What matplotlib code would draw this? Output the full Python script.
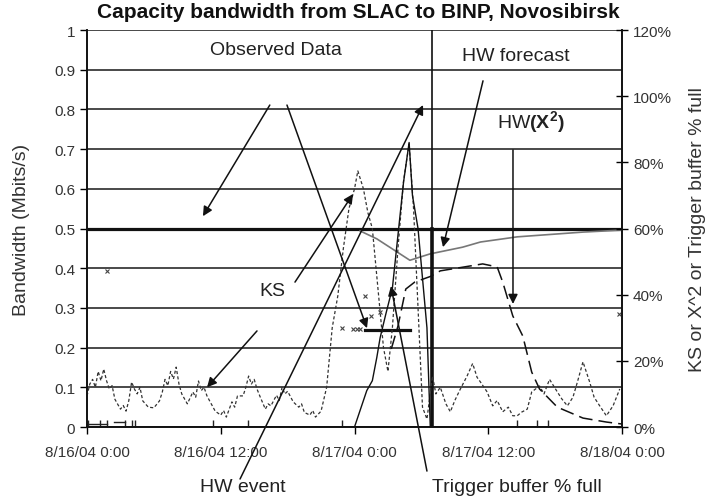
import matplotlib.pyplot as plt
import numpy as np

plt.rcParams['font.family'] = ['Liberation Sans', 'DejaVu Sans']
plt.rcParams['mathtext.fontset'] = 'custom'
plt.rcParams['mathtext.rm'] = 'Liberation Sans'
plt.rcParams['mathtext.bf'] = 'Liberation Sans:bold'

# time axis: hours since 8/16/04 0:00
tick_hours = [0, 12, 24, 36, 48]
tick_labels = ['8/16/04 0:00', '8/16/04 12:00', '8/17/04 0:00', '8/17/04 12:00', '8/18/04 0:00']
left_ticks = [0, 0.1, 0.2, 0.3, 0.4, 0.5, 0.6, 0.7, 0.8, 0.9, 1.0]
left_labels = ['0', '0.1', '0.2', '0.3', '0.4', '0.5', '0.6', '0.7', '0.8', '0.9', '1']
right_ticks = [0, 20, 40, 60, 80, 100, 120]

# observed bandwidth (Mbits/s)
obs_hours = [0, 48]
obs_bw = [0.5, 0.5]
obs_low_hours = [24.9, 29.0]
obs_low_bw = [0.245, 0.245]
obs_pt_hours = [1.8, 22.9, 23.9, 24.2, 24.5, 24.9, 25.5, 26.3, 47.7]
obs_pt_bw = [0.393, 0.249, 0.247, 0.247, 0.246, 0.33, 0.28, 0.29, 0.285]
base_hours = [0.1, 1.2, 1.8, 3.4, 4.0, 4.3, 11.3, 14.4, 22.9, 38.6, 40.4, 41.4]

# HW forecast (Mbits/s)
hwf_hours = [24.5, 26.0, 28.97, 30.77, 33.7, 35.3, 38.6, 44.5, 48.0]
hwf_bw = [0.494, 0.474, 0.42, 0.436, 0.453, 0.466, 0.479, 0.491, 0.496]

# KS (%)
ks_hours = [0, 0.25, 0.5, 0.75, 1.0, 1.25, 1.5, 1.75, 2.0, 2.25, 2.5, 3.0, 3.25, 3.5, 3.75,
            4.0, 4.25, 4.5, 4.75, 5.0, 5.5, 6.0, 6.5, 6.75, 7.0, 7.25, 7.5, 7.75,
            8.0, 8.25, 8.5, 8.75, 9.0, 9.5, 9.75, 10.0, 10.25, 10.5, 10.75, 11.0, 11.5,
            12.0, 12.25, 12.5, 13.0, 13.25, 13.5, 14.0, 14.25, 14.5, 14.75,
            15.0, 15.25, 15.5, 16.0, 16.25, 16.5, 17.0, 17.25, 17.5, 17.75, 18.0, 18.5,
            19.0, 19.25, 19.5, 20.0, 20.25, 20.5, 21.0,
            21.5, 22.0, 22.5, 23.0, 23.5, 24.0, 24.3, 24.8, 25.2, 25.6, 26.1, 26.6, 27.0,
            27.4, 27.9, 28.4, 28.9, 29.3, 29.7, 30.1, 30.5, 31.0, 31.3, 31.7, 32.2, 32.6,
            33.0, 33.5, 34.1, 34.6, 35.0, 35.3, 35.9, 36.4, 36.8, 37.3, 37.8, 38.2, 38.6,
            39.0, 39.5, 39.9, 40.6, 41.0, 41.5, 42.2, 42.6, 43.1, 43.6, 44.0,
            44.5, 45.1, 45.5, 46.0, 46.6, 47.2, 47.8]
ks_pct = [9.4, 13.0, 14.4, 12.0, 16.8, 14.0, 17.5, 14.0, 11.5, 12.5, 8.4, 5.4, 6.5, 4.8, 8.0,
          13.6, 11.5, 10.0, 12.0, 7.9, 6.0, 5.8, 7.9, 10.5, 14.4, 12.5, 16.8, 14.5,
          18.1, 13.0, 10.0, 8.5, 7.0, 10.6, 9.0, 13.9, 11.0, 12.0, 9.5, 7.9, 4.8,
          3.6, 5.0, 3.0, 7.6, 6.0, 9.4, 9.4, 12.0, 15.4, 13.0,
          14.4, 11.5, 9.4, 5.4, 7.0, 6.4, 9.6, 8.0, 12.0, 10.0, 10.8, 7.6,
          6.0, 7.0, 4.4, 3.6, 5.0, 3.0, 4.8,
          12.0, 30.0, 39.6, 54.0, 66.0, 72.0, 77.4, 72.0, 64.8, 60.0, 42.0, 24.0, 16.8,
          30.0, 54.0, 74.4, 85.6, 66.0, 36.0, 6.0, 2.4, 15.4, 10.0, 12.0, 7.0, 4.6,
          8.0, 11.5, 15.4, 19.2, 15.0, 13.6, 10.6, 6.4, 8.0, 4.6, 6.0, 3.4, 3.4,
          4.5, 5.4, 10.6, 12.4, 10.0, 14.4, 10.6, 8.5, 6.4, 9.0, 13.6,
          19.7, 13.6, 9.0, 6.4, 3.4, 6.4, 11.5]

# Trigger buffer % full
trig_hours = [24.0, 24.5, 25.1, 25.6, 26.0, 26.3, 26.8, 27.4, 27.9, 28.4, 28.9, 29.2, 29.7, 30.1, 30.5, 30.8]
trig_pct = [0, 5, 11, 14, 21, 27, 34, 42, 58, 74, 86, 70, 60, 45, 30, 0]

# HW(X^2) (%)
hwx_hours = [27.3, 27.9, 28.6, 29.4, 30.8, 31.7, 35.5, 36.8, 37.3, 38.2, 39.1, 39.9, 40.6, 42.2, 44.5, 46.6, 48.0]
hwx_pct = [23.6, 30.5, 41.7, 43.8, 45.5, 47.2, 49.3, 48.4, 43.8, 33.6, 27.5, 16.6, 11.5, 6.0, 2.7, 1.5, 0.9]

event_hour = 30.95

fig = plt.figure(figsize=(7.11, 5.02), dpi=100)
ax = fig.add_axes([0.1224, 0.1474, 0.7524, 0.7908])
ax2 = ax.twinx()

ax.set_xlim(0, 48)
ax.set_ylim(0, 1)
ax2.set_ylim(0, 120)

ax.set_yticks(left_ticks)
ax.set_yticklabels(left_labels)
ax.yaxis.grid(True, color='#2a2a2a', lw=1.2)
ax.set_axisbelow(True)
ax.set_xticks(tick_hours)
ax.set_xticklabels(tick_labels)
ax2.set_yticks(right_ticks)
ax2.set_yticklabels(['%d%%' % v for v in right_ticks])

for a in (ax, ax2):
    a.spines['top'].set_visible(False)
    for s in ('left', 'right', 'bottom'):
        a.spines[s].set_linewidth(1.2)
        a.spines[s].set_color('#111')
ax.tick_params(axis='both', direction='out', length=5, width=1, labelsize=11, labelcolor='#333')
ax.tick_params(axis='x', pad=8)
ax2.tick_params(axis='y', direction='inout', length=9, width=1, labelsize=11, labelcolor='#333')

# observed data
ax.plot(obs_hours, obs_bw, color='#111', lw=2.3, zorder=3)
ax.plot(obs_low_hours, obs_low_bw, color='#111', lw=2.3, zorder=3)
ax.plot(obs_pt_hours, obs_pt_bw, 'x', color='#444', ms=3, mew=0.8, zorder=3)
ax.plot(base_hours, [0.008] * len(base_hours), '|', color='#222', ms=6, mew=1, zorder=3)
ax.plot([0, 1.8], [0.008, 0.008], color='#222', lw=1)
ax.plot([2.4, 3.4], [0.012, 0.012], color='#222', lw=1)

# HW forecast
ax.plot(hwf_hours, hwf_bw, color='#777', lw=1.2, zorder=3)

# event line
ax.axvline(event_hour, color='#111', lw=1.2, zorder=3)
ax.plot([event_hour, event_hour], [0, 0.5], color='#111', lw=2.6, zorder=3)

# right-axis series
ax2.plot(ks_hours, ks_pct, color='#333', lw=0.9, dashes=(2.5, 1.8))
ax2.plot(trig_hours, trig_pct, color='#111', lw=1)
ax2.plot(hwx_hours, hwx_pct, color='#111', lw=1.1, dashes=(9, 4))

# annotations (tail -> head), data coords on left axis
arrows = [
    ((16.4, 0.811), (10.4, 0.531)),
    ((17.94, 0.811), (25.12, 0.249)),
    ((18.66, 0.365), (23.87, 0.587)),
    ((15.25, 0.242), (10.77, 0.1)),
    ((13.73, -0.131), (30.15, 0.811)),
    ((30.5, -0.111), (27.27, 0.355)),
    ((35.53, 0.872), (31.94, 0.453)),
    ((38.22, 0.698), (38.22, 0.31)),
]
for tail, head in arrows:
    ax2.annotate('', xy=(head[0], head[1] * 120), xytext=(tail[0], tail[1] * 120),
                 arrowprops=dict(arrowstyle='-|>', color='#111', lw=1.1, mutation_scale=14,
                                 shrinkA=0, shrinkB=0),
                 annotation_clip=False)

txt = dict(fontsize=14, color='#222', ha='center', va='center')
ax.text(16.96, 0.952, 'Observed Data', **txt)
ax.text(38.49, 0.937, 'HW forecast', **txt)
ax.text(39.84, 0.771, r'HW$\mathbf{(X^2)}$', **txt)
ax.text(16.6, 0.343, 'KS', **txt)
ax.text(14.0, -0.151, 'HW event', clip_on=False, **txt)
ax.text(38.58, -0.149, 'Trigger buffer % full', clip_on=False, **txt)

fig.text(0.504, 1 - 13 / 502, 'Capacity bandwidth from SLAC to BINP, Novosibirsk',
         fontsize=15, fontweight='bold', ha='center', va='center', color='#111')
fig.text(22 / 711, 0.5428, 'Bandwidth (Mbits/s)', rotation=90, fontsize=14,
         ha='center', va='center', color='#333')
fig.text(697 / 711, 0.5428, 'KS or X^2 or Trigger buffer % full', rotation=90, fontsize=14,
         ha='center', va='center', color='#333')

fig.savefig('out.png', dpi=100)
